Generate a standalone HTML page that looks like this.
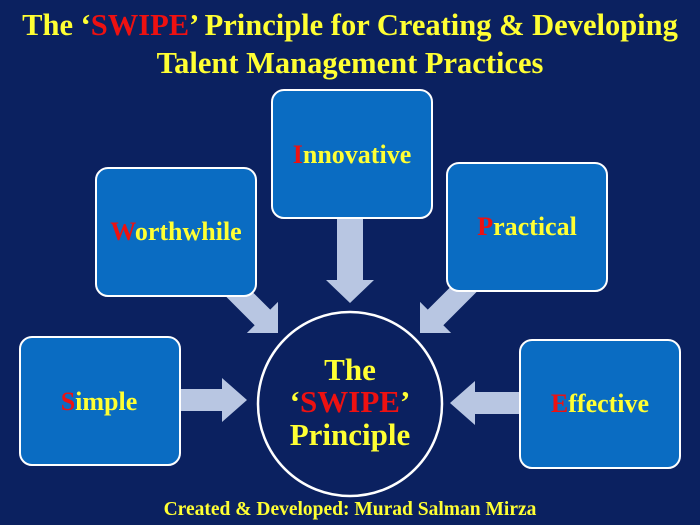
<!DOCTYPE html>
<html><head><meta charset="utf-8"><style>
html,body{margin:0;padding:0;background:#0b2160;}
svg{display:block;font-family:"Liberation Serif",serif;font-weight:bold;}
</style></head><body>
<svg width="700" height="525" viewBox="0 0 700 525" xmlns="http://www.w3.org/2000/svg">
<rect width="700" height="525" fill="#0b2160"/>
<text x="350" y="35" text-anchor="middle" font-size="30.5" fill="#ffff33">The ‘<tspan fill="#ee1111">SWIPE</tspan>’ Principle for Creating &amp; Developing</text>
<text x="350" y="73" text-anchor="middle" font-size="30.5" fill="#ffff33">Talent Management Practices</text>
<g fill="#b8c6e2">
<polygon transform="translate(278,333) rotate(45)" points="0,0 -22,-22 -22,-11 -70,-11 -70,11 -22,11 -22,22"/>
<polygon transform="translate(420,333) rotate(135)" points="0,0 -22,-22 -22,-11 -70,-11 -70,11 -22,11 -22,22"/>
<polygon transform="translate(350,303) rotate(90)" points="0,0 -23,-24 -23,-13 -90,-13 -90,13 -23,13 -23,24"/>
<polygon transform="translate(247,400) rotate(0)" points="0,0 -25,-22 -25,-11 -70,-11 -70,11 -25,11 -25,22"/>
<polygon transform="translate(450,403) rotate(180)" points="0,0 -25,-22 -25,-11 -75,-11 -75,11 -25,11 -25,22"/>
</g>
<g fill="#0a6cc2" stroke="#ffffff" stroke-width="2">
<rect x="96" y="168" width="160" height="128" rx="12"/>
<rect x="272" y="90" width="160" height="128" rx="12"/>
<rect x="447" y="163" width="160" height="128" rx="12"/>
<rect x="20" y="337" width="160" height="128" rx="12"/>
<rect x="520" y="340" width="160" height="128" rx="12"/>
</g>
<circle cx="350" cy="404" r="92" fill="#0b2160" stroke="#ffffff" stroke-width="2.5"/>
<g font-size="26" fill="#ffff33" text-anchor="middle">
<text x="176" y="240"><tspan fill="#ee1111">W</tspan>orthwhile</text>
<text x="352" y="163"><tspan fill="#ee1111">I</tspan>nnovative</text>
<text x="527" y="235"><tspan fill="#ee1111">P</tspan>ractical</text>
<text x="99" y="410"><tspan fill="#ee1111">S</tspan>imple</text>
<text x="600" y="412"><tspan fill="#ee1111">E</tspan>ffective</text>
</g>
<g font-size="31" fill="#ffff33" text-anchor="middle">
<text x="350" y="380">The</text>
<text x="350" y="412">‘<tspan fill="#ee1111">SWIPE</tspan>’</text>
<text x="350" y="445">Principle</text>
</g>
<text x="350" y="515" text-anchor="middle" font-size="19.5" fill="#ffff33">Created &amp; Developed: Murad Salman Mirza</text>
</svg>
</body></html>
